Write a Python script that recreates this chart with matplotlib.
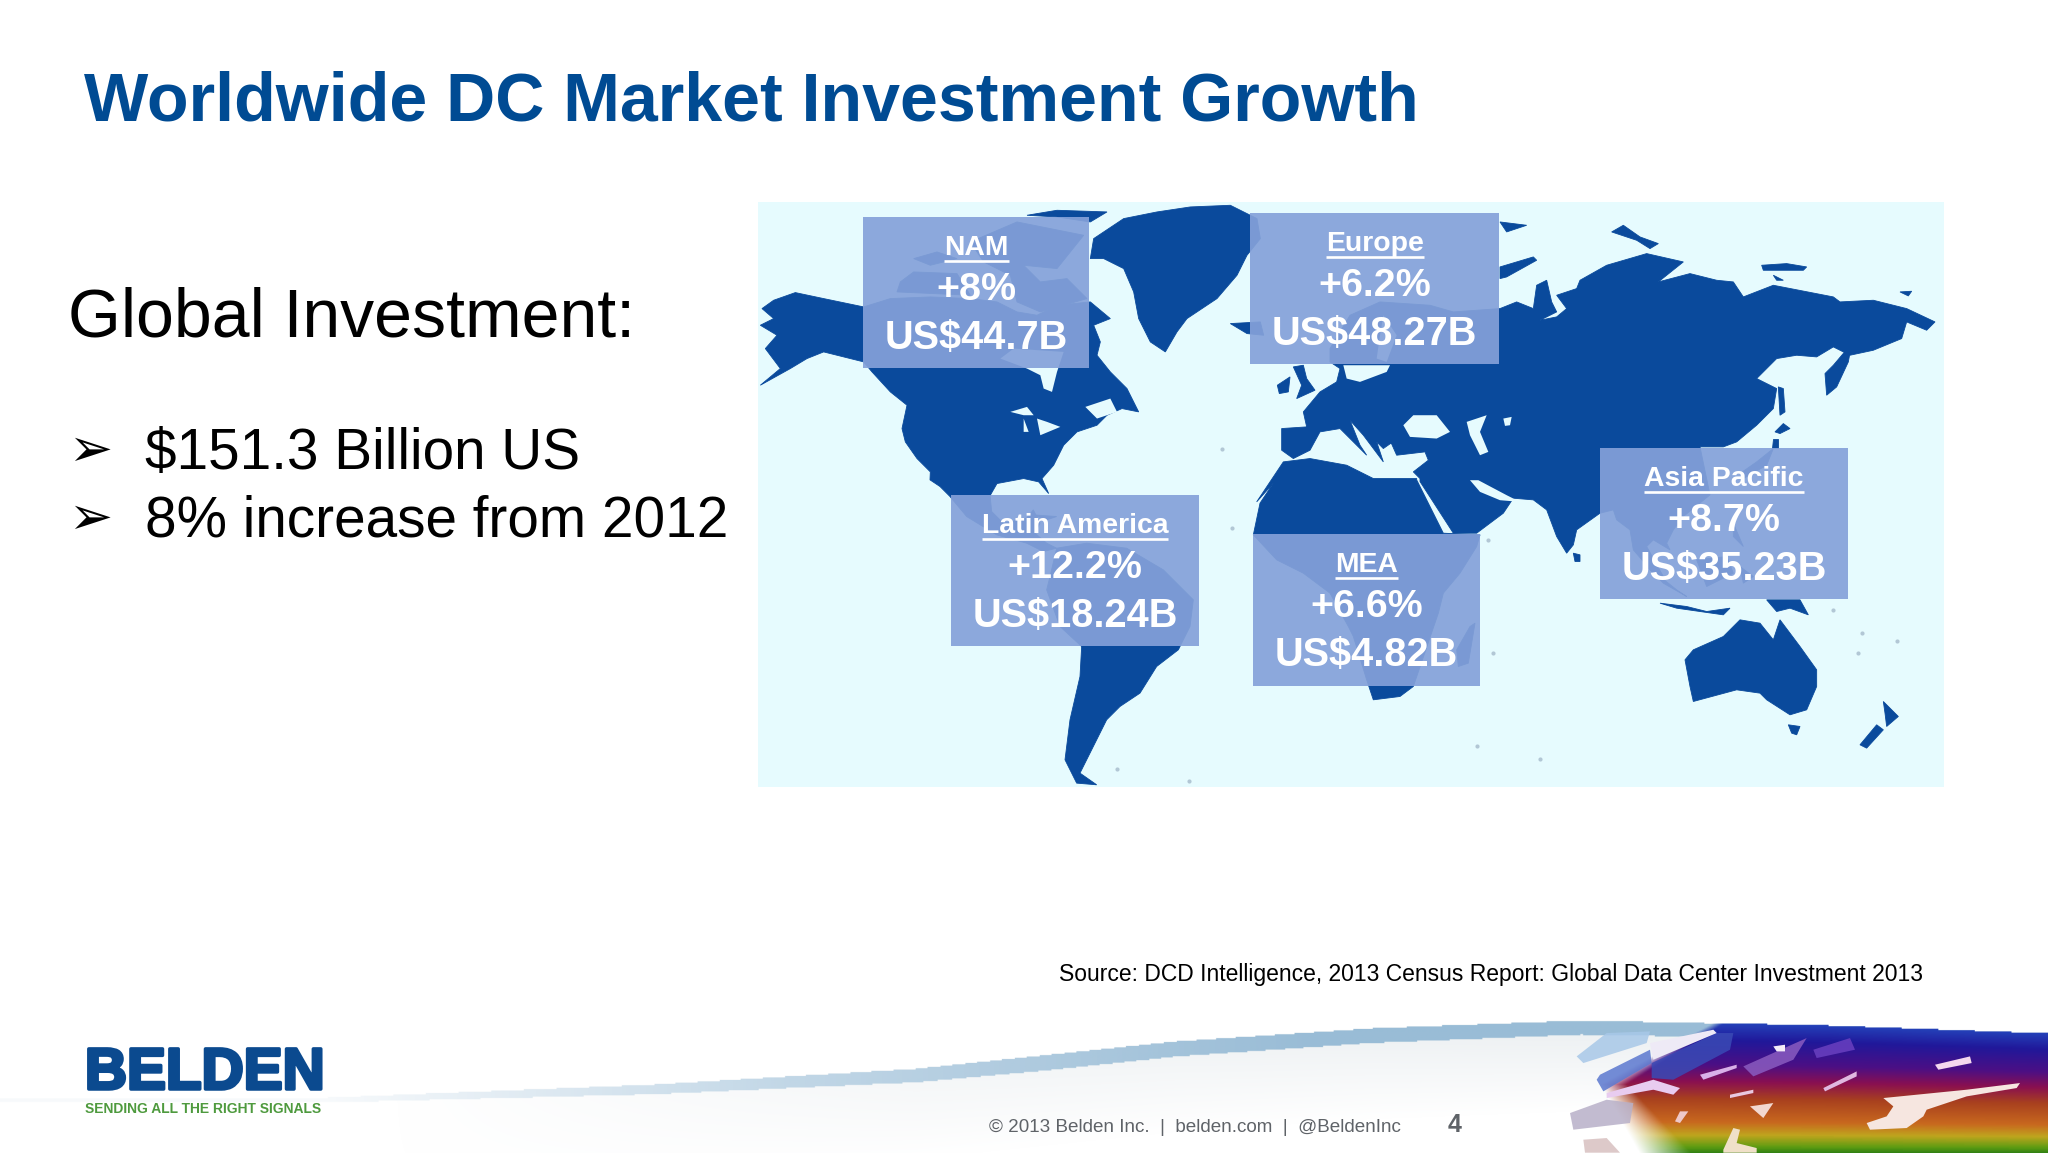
import matplotlib
matplotlib.use('Agg')
import matplotlib.patheffects as pe
import matplotlib.pyplot as plt
import numpy as np
from matplotlib.colors import LinearSegmentedColormap
from matplotlib.patches import Polygon, Rectangle

# slide values
regions = ['NAM', 'Europe', 'Latin America', 'MEA', 'Asia Pacific']
growth = ['+8%', '+6.2%', '+12.2%', '+6.6%', '+8.7%']
invest = ['US$44.7B', 'US$48.27B', 'US$18.24B', 'US$4.82B', 'US$35.23B']
bullets = ['$151.3 Billion US', '8% increase from 2012']

# box left, top, right, bottom (slide px)
box_x0 = [661, 957, 728, 959, 1225]
box_y0 = [166, 163, 379, 409, 343]
box_x1 = [834, 1148, 918, 1133, 1415]
box_y1 = [282, 279, 495, 525, 459]

SCALE = 1568 / 2048


def crop(x0, y0, points):
    return [((x0 + x / 3) * SCALE, (y0 + y / 3) * SCALE) for x, y in points]


def a(points):
    return crop(757, 202, points)


def b(points):
    return crop(1240, 202, points)


def c(points):
    return crop(1540, 202, points)


def d(points):
    return crop(900, 480, points)


def e(points):
    return crop(1400, 480, points)


# land outlines
north_america = a([(15, 320), (50, 295), (115, 272), (200, 290), (320, 315), (400, 290), (520, 285), (640, 290),
                   (720, 300), (780, 330), (840, 340), (900, 310), (1000, 300), (1060, 350), (1010, 370), (1030, 420),
                   (1020, 460), (1060, 510), (1110, 560), (1145, 630), (1095, 620), (1050, 640), (1020, 670),
                   (960, 690), (920, 730), (890, 790), (855, 830), (875, 875), (845, 840), (800, 830), (720, 845),
                   (700, 880)]) \
    + d([(270, 45), (275, 95), (310, 130), (380, 115), (400, 90), (420, 130), (405, 160), (440, 190), (470, 205),
         (430, 215), (380, 190), (290, 165), (200, 110), (150, 50), (120, 20), (90, 0)]) \
    + a([(520, 810), (480, 770), (445, 720), (435, 680), (450, 610), (400, 570), (345, 510), (320, 480), (200, 450),
         (150, 470), (100, 500), (10, 550), (70, 500), (25, 440), (60, 400), (10, 370), (50, 350)])
south_america = d([(470, 205), (560, 190), (680, 205), (790, 270), (880, 360), (870, 440), (835, 510), (770, 560),
                   (720, 640), (660, 680), (620, 720), (590, 780), (570, 820), (540, 880), (590, 915), (530, 910),
                   (495, 840), (510, 720), (540, 590), (545, 500), (480, 440), (440, 330), (450, 290)])
greenland = a([(1000, 170), (1010, 110), (1100, 50), (1200, 30), (1300, 15), (1420, 10), (1500, 50), (1510, 110),
               (1470, 160), (1440, 220), (1380, 290), (1290, 350), (1260, 390), (1225, 450), (1180, 420), (1145, 350),
               (1130, 270), (1100, 200), (1040, 170)])
eurasia = b([(125, 745), (125, 680), (200, 675), (190, 630), (240, 570), (290, 540), (300, 500), (270, 480), (270, 440),
             (330, 340), (420, 300), (570, 310), (640, 330), (780, 320), (830, 300), (880, 320), (890, 250), (920, 235),
             (935, 300), (950, 330), (900, 355), (950, 345), (980, 320), (950, 280), (1010, 260), (1020, 235),
             (1100, 190), (1220, 155), (1330, 180), (1255, 240), (1350, 215), (1430, 235), (1480, 240)]) \
    + c([(610, 285), (700, 250), (880, 285), (900, 300), (1000, 295), (1100, 320), (1185, 360), (1160, 385), (1100, 360),
         (1085, 410), (1000, 445), (930, 460), (880, 435), (830, 465), (770, 460), (710, 470), (650, 530), (710, 560),
         (700, 620), (650, 670), (590, 720), (550, 735), (480, 735)]) \
    + e([(930, 45), (850, 110), (820, 150), (800, 190), (810, 210), (760, 180), (740, 200), (790, 290), (760, 280),
         (700, 210), (690, 150), (650, 120), (640, 90), (600, 100), (530, 150), (520, 195), (500, 220), (470, 170),
         (440, 90), (400, 60), (340, 55), (310, 100), (230, 160), (160, 160), (60, 5)]) \
    + b([(540, 830), (520, 810), (565, 775), (555, 750), (470, 760), (450, 715), (480, 705), (430, 740), (410, 720),
         (430, 780), (370, 700), (330, 655), (360, 730), (380, 760), (360, 740), (300, 680), (240, 690), (210, 745),
         (160, 770)])
africa = b([(50, 900), (130, 780), (210, 770), (320, 790), (400, 830), (530, 830)]) \
    + e([(50, 0), (130, 160), (240, 165), (230, 200), (180, 280), (130, 340), (115, 400), (40, 620), (0, 650)]) \
    + d([(1420, 660), (1400, 600), (1360, 470), (1345, 440), (1290, 340), (1210, 280), (1130, 240), (1060, 165),
         (1080, 70), (1120, 10)])
australia = e([(855, 540), (880, 510), (970, 470), (1020, 420), (1080, 430), (1120, 480), (1140, 420), (1200, 500),
               (1250, 570), (1250, 620), (1220, 690), (1170, 705), (1100, 660), (1080, 640), (1010, 630), (880, 665),
               (870, 620)])
small_land = [
    a([(810, 40), (900, 25), (1050, 30), (1000, 60), (900, 45)]),
    a([(430, 240), (470, 210), (600, 215), (640, 280), (420, 270)]),
    a([(470, 170), (540, 150), (600, 170), (520, 190)]),
    a([(640, 120), (780, 60), (980, 100), (900, 200), (800, 190), (850, 240), (930, 230), (990, 290), (850, 330),
       (780, 300), (760, 220), (680, 180)]),
    a([(1420, 365), (1510, 360), (1520, 400), (1470, 395)]),
    b([(112, 550), (150, 525), (145, 570), (118, 575)]),
    b([(160, 495), (190, 490), (200, 530), (225, 565), (170, 590), (185, 550)]),
    b([(780, 195), (880, 165), (890, 175), (800, 225), (780, 230)]),
    b([(780, 60), (860, 70), (800, 90)]),
    c([(215, 90), (250, 70), (300, 105), (355, 125), (330, 140), (290, 115)]),
    c([(665, 190), (740, 185), (800, 195), (790, 205), (720, 205), (670, 205)]),
    c([(700, 220), (730, 235), (710, 235)]),
    c([(1080, 270), (1115, 268), (1105, 282)]),
    c([(855, 515), (880, 490), (935, 425), (925, 480), (890, 555), (860, 580)]),
    c([(715, 555), (730, 560), (735, 630), (720, 640)]),
    c([(705, 690), (730, 665), (750, 680), (720, 695)]),
    c([(700, 710), (715, 710), (715, 738), (695, 738)]),
    c([(700, 740), (680, 790), (610, 830), (600, 815), (650, 780)]),
    e([(1165, 735), (1200, 740), (1190, 765), (1175, 760)]),
    e([(1450, 665), (1495, 710), (1460, 740), (1455, 700)]),
    e([(1430, 735), (1450, 750), (1400, 805), (1380, 795)]),
    e([(1100, 360), (1200, 360), (1225, 405), (1170, 385), (1130, 395)]),
    e([(780, 370), (860, 380), (920, 395), (990, 385), (970, 405), (900, 395), (830, 385)]),
    e([(890, 240), (980, 230), (1000, 280), (920, 320)]),
    e([(730, 250), (830, 330), (860, 350), (790, 310)]),
    e([(1000, 130), (1030, 200), (1000, 170)]),
    e([(1020, 260), (1060, 290), (1030, 310)]),
    e([(520, 220), (540, 225), (540, 245), (525, 245)]),
    e([(210, 440), (225, 430), (205, 550), (175, 560), (170, 510)]),
    d([(400, 105), (470, 110), (440, 120)]),
]
# seas and lakes cut out of the land
water = [
    a([(730, 470), (770, 440), (920, 450), (900, 510), (885, 570), (860, 560), (850, 520), (810, 500)]),
    a([(760, 630), (810, 615), (830, 640), (800, 640)]),
    a([(800, 650), (815, 690), (800, 690)]),
    a([(840, 650), (870, 660), (910, 675), (850, 700)]),
    a([(985, 615), (1060, 590), (1080, 630), (1020, 650)]),
    b([(310, 490), (450, 490), (440, 510), (360, 540), (320, 530)]),
    b([(430, 340), (470, 400), (440, 480), (410, 470), (420, 400)]),
    b([(490, 670), (520, 640), (590, 640), (630, 690), (590, 710), (510, 705)]),
    b([(680, 660), (740, 640), (720, 690), (745, 750), (720, 760), (690, 700)]),
    b([(790, 650), (815, 645), (810, 670), (795, 672)]),
    b([(690, 835), (715, 835), (800, 880), (840, 900), (780, 895), (720, 870)]),
]
specks = e([(230, 800), (420, 838), (280, 520), (1385, 460), (1375, 520), (1490, 485), (265, 180), (1300, 390)]) \
    + d([(650, 868), (868, 905), (995, 145)]) + a([(1395, 740)])

# rainbow corner patches
rb_blocks = [('#A8C8E8', [(110, 170), (200, 100), (330, 95), (320, 130), (130, 190)]),
             ('#5B78CF', [(170, 240), (180, 225), (330, 150), (335, 190), (190, 275)]),
             ('#3A4AB5', [(335, 190), (530, 100), (580, 100), (570, 150), (400, 240), (335, 235)]),
             ('#8A5CC0', [(610, 200), (800, 115), (760, 180), (640, 230)]),
             ('#6A40C0', [(820, 150), (930, 115), (945, 150), (830, 175)]),
             ('#B8B0C8', [(90, 340), (200, 300), (280, 310), (270, 370), (100, 390)]),
             ('#D8C0C0', [(130, 420), (200, 415), (240, 459), (135, 459)])]
rb_streaks = [('#EEEAF6', [(330, 130), (520, 90), (530, 100), (340, 180)]),
              ('#F6E6E0', [(980, 370), (1040, 350), (1060, 320), (1030, 295), (1280, 270), (1440, 250), (1430, 265),
                           (1280, 290), (1160, 330), (1150, 350), (1100, 385), (990, 390)]),
              ('#F4D8EE', [(1185, 195), (1290, 170), (1295, 190), (1195, 210)]),
              ('#D8B0E8', [(480, 225), (590, 195), (590, 205), (490, 240)]),
              ('#F2D8D0', [(630, 320), (700, 310), (670, 355)]),
              ('#E8C8E0', [(570, 285), (640, 270), (640, 280), (570, 295)]),
              ('#E0B8E0', [(850, 265), (950, 215), (950, 230), (855, 275)]),
              ('#F4ECF8', [(700, 140), (735, 135), (735, 155), (710, 155)]),
              ('#EEC8C8', [(405, 365), (420, 335), (445, 335), (420, 370)]),
              ('#F0E0C8', [(550, 450), (580, 385), (600, 390), (590, 430), (650, 445), (650, 459), (550, 459)]),
              ('#E8CCF0', [(200, 280), (340, 240), (420, 265), (400, 285), (340, 270), (200, 295)])]

BG = '#E6FBFE'
LAND = '#0A4A9C'
BOX = '#84A1D9'
TITLE = '#004B93'
sans = 'Liberation Sans'


def draw_footer_swoosh(ax):
    w, h = 1568, 140
    xs = np.arange(w)
    ys = np.arange(h) + 743
    top = np.interp(xs, [250, 500, 700, 900, 1050, 1210, 1400, 1568], [840, 830, 818, 797, 787, 781, 785, 791])
    img = np.ones((h, w, 4))
    img[:, :, 3] = 0
    # soft grey wash below the band
    strength = np.interp(xs, [300, 700, 1200, 1300], [0, 0.45, 0.8, 0.8])
    for i, x in enumerate(xs):
        dy = ys - top[i]
        img[:, i, :3] = np.array([0.90, 0.92, 0.93])
        img[:, i, 3] = np.clip(1 - dy / 70, 0, 1) * strength[i] * (dy > 0)
        thick = np.interp(x, [250, 800, 1200, 1568], [4, 12, 11, 10])
        band = (dy > 0) & (dy < thick)
        img[band, i, :3] = np.array([0.60, 0.74, 0.84])
        img[band, i, 3] = np.interp(x, [250, 600, 1000], [0.08, 0.6, 1.0])
    ax.imshow(img, extent=(0, w, 743 + h, 743), aspect='auto', zorder=1, interpolation='bilinear')

    cmap = LinearSegmentedColormap.from_list('rb', [(0.0, '#2440B8'), (0.13, '#20189A'), (0.32, '#4C0F84'),
                                                    (0.45, '#8A1050'), (0.58, '#A8401F'), (0.76, '#C8681E'),
                                                    (0.86, '#BFA51E'), (0.95, '#5E9C12'), (1.0, '#2C7E14')])
    rb = np.zeros((h, w, 4))
    edge = np.interp(ys, [781, 830, 883], [1315, 1225, 1255])
    ramp = np.interp(ys, [781, 830, 883], [8, 20, 40])
    for i, x in enumerate(xs):
        if x < 1200:
            continue
        t = np.clip((ys - top[i]) / (883 - top[i]), 0, 1)
        rb[:, i, :3] = cmap(t)[:, :3]
        rb[:, i, 3] = np.clip((x - edge) / ramp, 0, 1) * (ys > top[i])
    ax.imshow(rb, extent=(0, w, 743 + h, 743), aspect='auto', zorder=2, interpolation='bilinear')

    for color, pts in rb_blocks:
        ax.add_patch(Polygon(crop(1540, 1000, pts), closed=True, fc=color, ec='none', alpha=0.85, zorder=2.5))
    for color, pts in rb_streaks:
        ax.add_patch(Polygon(crop(1540, 1000, pts), closed=True, fc=color, ec='none', zorder=3))


def underline(fig, ax, t, y):
    bb = t.get_window_extent(fig.canvas.get_renderer()).transformed(ax.transData.inverted())
    ax.plot([bb.x0, bb.x1], [y, y], color='white', lw=1.9, solid_capstyle='butt', zorder=7)


fig = plt.figure(figsize=(20.48, 11.53), dpi=100, facecolor='white')
ax = fig.add_axes([0, 0, 1, 1])
ax.axis('off')

draw_footer_swoosh(ax)
ax.set_xlim(0, 1568)
ax.set_ylim(883, 0)

# map
ax.add_patch(Rectangle((580, 155), 908, 448, fc=BG, ec='none', zorder=3))
for shape in [north_america, south_america, greenland, eurasia, africa, australia] + small_land:
    ax.add_patch(Polygon(shape, closed=True, fc=LAND, ec=LAND, lw=0.6, zorder=4))
for shape in water:
    ax.add_patch(Polygon(shape, closed=True, fc=BG, ec='none', zorder=4.5))
ax.scatter([p[0] for p in specks], [p[1] for p in specks], s=9, color='#7F94AE', alpha=0.5, zorder=4.5, linewidths=0)

# region boxes
for i, name in enumerate(regions):
    x0, y0, x1, y1 = box_x0[i], box_y0[i], box_x1[i], box_y1[i]
    ax.add_patch(Rectangle((x0, y0), x1 - x0, y1 - y0, fc=BOX, ec='none', alpha=0.92, zorder=5))
    cx = (x0 + x1) / 2
    head = ax.text(cx, y0 + 24, name, color='white', fontsize=20.4, fontweight='bold', family=sans,
                   ha='center', va='center', zorder=7)
    fig.canvas.draw()
    underline(fig, ax, head, y0 + 33.5)
    ax.text(cx, y0 + 56, growth[i], color='white', fontsize=28.4, fontweight='bold', family=sans,
            ha='center', va='center', zorder=7)
    ax.text(cx, y0 + 93, invest[i], color='white', fontsize=28.6, fontweight='bold', family=sans,
            ha='center', va='center', zorder=7)

# left column
ax.text(64, 92, 'Worldwide DC Market Investment Growth', color=TITLE, fontsize=49.1, fontweight='bold', family=sans,
        ha='left', va='baseline', zorder=7)
ax.text(52, 258, 'Global Investment:', color='black', fontsize=49, family=sans, ha='left', va='baseline', zorder=7)
for y, label in zip([359, 411], bullets):
    ax.text(52, y - 2, '\u27a2', color='black', fontsize=38, family='DejaVu Sans', ha='left', va='baseline', zorder=7)
    ax.text(111, y, label, color='black', fontsize=40.9, family=sans, ha='left', va='baseline', zorder=7)

ax.text(1472, 751, 'Source: DCD Intelligence, 2013 Census Report: Global Data Center Investment 2013', color='black',
        fontsize=16.5, family=sans, ha='right', va='baseline', zorder=7)

# logo and footer
ax.text(65, 834, 'BELDEN', color='#0B4A8F', fontsize=42, fontweight='bold', family=sans, ha='left', va='baseline',
        zorder=7, path_effects=[pe.withStroke(linewidth=2.5, foreground='#0B4A8F')])
ax.text(65, 852, 'SENDING ALL THE RIGHT SIGNALS', color='#4E9A3E', fontsize=10, fontweight='bold', family=sans,
        ha='left', va='baseline', zorder=7)
ax.text(757, 867, '\u00a9 2013 Belden Inc.  |  belden.com  |  @BeldenInc', color='#5F6368', fontsize=13.6,
        family=sans, ha='left', va='baseline', zorder=7)
ax.text(1108, 867, '4', color='#5F6368', fontsize=18, fontweight='bold', family=sans, ha='left', va='baseline',
        zorder=7)

fig.savefig('out.png', dpi=100)
